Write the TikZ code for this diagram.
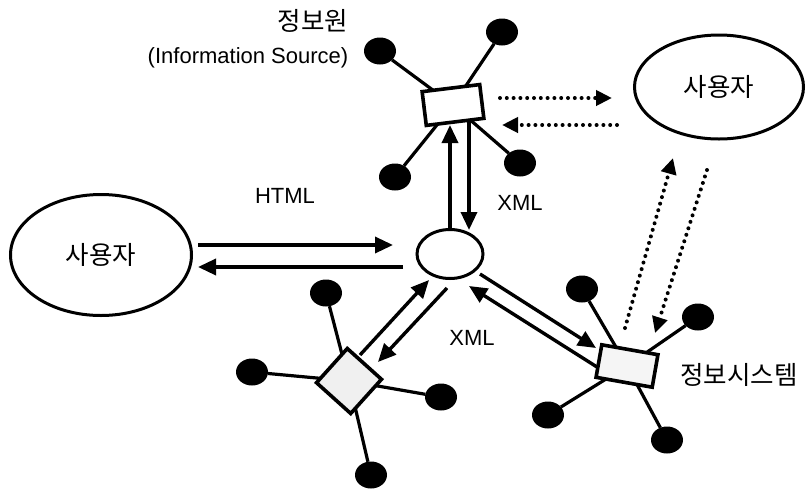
\documentclass[tikz,border=0pt]{standalone}
\usepackage{fontspec}
\setmainfont{Liberation Sans}
\newfontfamily\kor{Noto Sans CJK KR}
\usetikzlibrary{arrows.meta,calc,shapes.geometric}

\begin{document}
\begin{tikzpicture}[x=1pt,y=-1pt,
  every node/.style={inner sep=0pt, outer sep=0pt},
  oval/.style={draw, ellipse, line width=3pt},
  box/.style={draw, rectangle, line width=3.6pt, fill=white!96!black},
  sat/.style={fill=black, ellipse, minimum width=32pt, minimum height=27pt},
  spoke/.style={line width=3.2pt},
  arr/.style={line width=3.4pt, -{Triangle[length=18pt,width=16pt]}},
  darr/.style={line width=4pt, line cap=round, dash pattern=on 0pt off 6.8pt,
               -{Triangle[length=16pt,width=15pt]}},
  lbl/.style={font=\fontsize{22}{26}\selectfont},
  klbl/.style={font=\kor\fontsize{25.5}{30}\selectfont}]

% page
\fill[white] (0,0) rectangle (807,491);
\useasboundingbox (0,0) rectangle (807,491);

% users and the central hub
\node[oval, minimum width=181pt, minimum height=121pt, klbl] (userL) at (101,255) {사용자};
\node[oval, minimum width=169pt, minimum height=104pt, klbl] (userR) at (719,87) {사용자};
\node[oval, minimum width=66pt, minimum height=49pt] (hub) at (450,254) {};

% information source with its satellites
\node[box, minimum width=58pt, minimum height=34pt, rotate=7, fill=white] (src) at (453,105) {};
\node[sat] (a1) at (380,51) {};
\node[sat] (a2) at (502,32) {};
\node[sat] (a3) at (520,163) {};
\node[sat] (a4) at (395,177) {};
\foreach \s in {a1,a2,a3,a4} \draw[spoke] (src) -- (\s);

% lower-left system (diamond) with its satellites
\node[box, minimum width=46pt, minimum height=46pt, rotate=48, fill=white!94!black] (dia) at (349,381) {};
\node[sat] (b1) at (326,293) {};
\node[sat] (b2) at (252,372) {};
\node[sat] (b3) at (441,397) {};
\node[sat] (b4) at (371,475) {};
\foreach \s in {b1,b2,b3,b4} \draw[spoke] (dia) -- (\s);

% information system with its satellites
\node[box, minimum width=57pt, minimum height=33pt, rotate=-10] (sys) at (627,366) {};
\node[sat] (c1) at (582,289) {};
\node[sat] (c2) at (698,317) {};
\node[sat] (c3) at (548,415) {};
\node[sat] (c4) at (667,440) {};
\foreach \s in {c1,c2,c3,c4} \draw[spoke] (sys) -- (\s);

% HTML exchange
\draw[arr] ($(userL.center)+(97,-10)$) -- ($(hub.center)+(-57,-9)$);
\draw[arr] ($(hub.center)+(-47,13)$) -- ($(userL.center)+(97,12)$);

% hub <-> information source
\draw[arr] ($(hub.center)+(0,-23)$) -- ($(src.center)+(-3,20)$);
\draw[arr] ($(src.center)+(16,16)$) -- ($(hub.center)+(19,-24)$);

% hub <-> diamond
\draw[arr] ($(dia.center)+(11,-26)$) -- ($(hub.center)+(-21,26)$);
\draw[arr] ($(hub.center)+(-3,34)$) -- ($(dia.center)+(29,-19)$);

% hub <-> information system
\draw[arr] ($(hub.center)+(30,20)$) -- ($(sys.center)+(-31,-18)$);
\draw[arr] ($(sys.center)+(-30,1)$) -- ($(hub.center)+(19,32)$);

% dotted exchanges with the right-hand user
\draw[darr] ($(src.center)+(47,-7)$) -- ($(userR.center)+(-107,11)$);
\draw[darr] ($(userR.center)+(-102,38)$) -- ($(src.center)+(49,20)$);
\draw[darr] ($(sys.center)+(-2,-38)$) -- ($(userR.center)+(-46,71)$);
\draw[darr] ($(userR.center)+(-12,83)$) -- ($(sys.center)+(28,-33)$);

% labels
\node[klbl] (srcname) at (313,21) {정보원};
\node[lbl] (srcsub) at (248,58) {(Information Source)};
\node[lbl] (html) at (285,196) {HTML};
\node[lbl] (xmlup) at (520,203) {XML};
\node[lbl] (xmldown) at (472,338) {XML};
\node[klbl] (sysname) at (739,375) {정보시스템};
\end{tikzpicture}
\end{document}
